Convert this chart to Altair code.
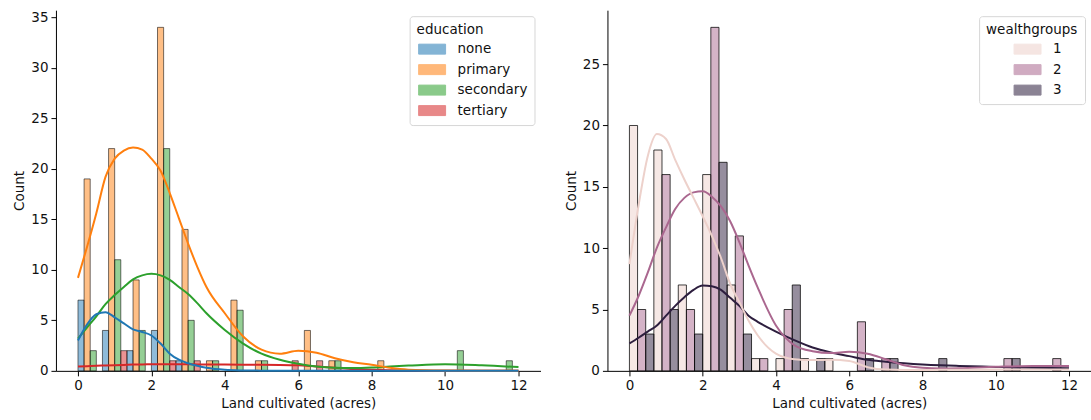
import altair as alt
import pandas as pd

# ---------------- data ----------------
BIN_WIDTH = 2 / 3          # 18 bins covering 0 .. 12 acres
X_TICKS = [0, 2, 4, 6, 8, 10, 12]

edu_levels = ["none", "primary", "secondary", "tertiary"]
edu_colors = ["#1f77b4", "#ff7f0e", "#2ca02c", "#d62728"]
none_counts      = [7, 4, 2, 4, 1, 0, 0, 0, 0, 0, 0, 0, 0, 0, 0, 0, 0, 0]
primary_counts   = [19, 22, 9, 34, 14, 1, 7, 1, 0, 4, 1, 0, 1, 0, 0, 0, 0, 0]
secondary_counts = [2, 11, 4, 22, 5, 1, 6, 1, 0, 0, 1, 0, 0, 0, 0, 2, 0, 1]
tertiary_counts  = [0, 2, 0, 1, 1, 0, 0, 0, 1, 1, 0, 0, 0, 0, 0, 0, 0, 0]

wealth_levels = ["1", "2", "3"]
wealth_colors = ["#edd1cb", "#aa678f", "#2d1e3e"]
w1_counts = [20, 18, 7, 16, 7, 1, 1, 1, 1, 0, 0, 0, 0, 0, 0, 0, 0, 0]
w2_counts = [5, 16, 5, 28, 11, 1, 5, 0, 0, 4, 1, 0, 0, 0, 0, 1, 0, 1]
w3_counts = [3, 5, 3, 17, 3, 0, 7, 1, 0, 1, 1, 0, 1, 0, 0, 1, 0, 0]

# density curves (scaled to counts), read at these x positions
kde_x = [0, 0.25, 0.5, 0.75, 1.0, 1.25, 1.5, 1.75, 2.0, 2.25, 2.5, 2.75, 3.0, 3.25,
         3.5, 4.0, 4.5, 5.0, 5.5, 6.0, 6.5, 7.0, 7.5, 8.0, 8.5, 9.0, 10.0, 11.0, 12.0]
none_kde = [3.0, 4.6, 5.6, 5.8, 5.3, 4.7, 4.1, 3.85, 3.5, 2.7, 1.7, 1.1, 0.75, 0.5,
            0.3, 0.1, 0.04, 0.02, 0.01, 0, 0, 0, 0, 0, 0, 0, 0, 0, 0]
primary_kde = [9.2, 12.3, 15.6, 19.2, 21.0, 21.8, 22.1, 21.9, 21.0, 19.8, 17.6, 15.1,
               12.6, 10.3, 8.3, 5.7, 3.4, 2.1, 1.7, 2.0, 1.8, 1.25, 0.85, 0.6, 0.3,
               0.12, 0.03, 0.01, 0.0]
secondary_kde = [3.2, 4.3, 5.4, 6.6, 7.5, 8.3, 9.05, 9.45, 9.6, 9.45, 9.0, 8.3, 7.6,
                 6.7, 5.7, 4.05, 2.7, 1.7, 1.1, 0.7, 0.42, 0.3, 0.28, 0.33, 0.43, 0.52,
                 0.66, 0.55, 0.37]
tertiary_kde = [0.42, 0.46, 0.5, 0.53, 0.56, 0.59, 0.62, 0.64, 0.65, 0.66, 0.66, 0.66,
                0.65, 0.64, 0.63, 0.62, 0.61, 0.6, 0.59, 0.55, 0.42, 0.3, 0.18, 0.11,
                0.06, 0.03, 0.01, 0.0, 0.0]

w1_kde = [8.7, 13.5, 17.5, 19.3, 18.9, 17.2, 15.6, 14.1, 12.6, 11.0, 9.2, 7.1, 5.6,
          4.1, 2.9, 1.4, 0.95, 0.88, 0.9, 0.8, 0.3, 0.1, 0.07, 0.07, 0.08, 0.09, 0.1,
          0.1, 0.1]
w2_kde = [4.5, 6.1, 8.0, 10.05, 11.7, 13.2, 14.1, 14.55, 14.63, 14.2, 13.4, 12.2, 10.5,
          8.6, 6.8, 3.7, 2.1, 1.6, 1.45, 1.55, 1.4, 0.95, 0.45, 0.25, 0.2, 0.22, 0.33,
          0.4, 0.4]
w3_kde = [2.24, 2.7, 3.2, 3.7, 4.5, 5.3, 6.0, 6.6, 6.95, 6.9, 6.6, 5.95, 5.3, 4.5, 4.0,
          3.2, 2.5, 1.9, 1.5, 1.2, 0.9, 0.75, 0.62, 0.52, 0.45, 0.4, 0.32, 0.25, 0.21]

# ---------------- tables for the library ----------------
def hist_table(levels, counts_list):
    rows = []
    n = len(levels)
    for slot, (lvl, counts) in enumerate(zip(levels, counts_list)):
        for k, c in enumerate(counts):
            if c > 0:
                rows.append({"group": lvl, "bin": k, "slot": slot, "n": n, "count": c})
    return pd.DataFrame(rows)


def kde_table(levels, kde_list):
    rows = []
    # drawn in reverse hue order (first level on top)
    for lvl, vals in reversed(list(zip(levels, kde_list))):
        for x, v in zip(kde_x, vals):
            rows.append({"group": lvl, "x": x, "density": v})
    return pd.DataFrame(rows)


FONT = "DejaVu Sans"
FS = 13.5
TXT = "#111111"
# wide swatch drawn beyond the unit box so the legend rows stay compact
SWATCH = "M-2,-0.74L2,-0.74L2,0.74L-2,0.74Z"


def panel(levels, colors, counts_list, kde_list, ymax, yticks, legend_title,
          stroke_op, symbol_offset, width):
    x_scale = alt.Scale(domain=[-0.6, 12.6], nice=False, zero=False)
    y_scale = alt.Scale(domain=[0, ymax], nice=False, zero=True)
    x_axis = alt.Axis(values=X_TICKS, grid=False, title="Land cultivated (acres)")
    y_axis = alt.Axis(values=yticks, grid=False, title="Count")

    bars = alt.Chart(hist_table(levels, counts_list)).transform_calculate(
        x0=f"datum.bin * {BIN_WIDTH} + datum.slot * {BIN_WIDTH} / datum.n",
        x1=f"datum.bin * {BIN_WIDTH} + (datum.slot + 1) * {BIN_WIDTH} / datum.n",
    ).mark_rect(
        fillOpacity=0.5, stroke="black", strokeOpacity=stroke_op, strokeWidth=1
    ).encode(
        x=alt.X("x0:Q", scale=x_scale, axis=x_axis),
        x2="x1:Q",
        y=alt.Y("count:Q", scale=y_scale, axis=y_axis),
        y2=alt.datum(0),
        fill=alt.Fill(
            "group:N",
            scale=alt.Scale(domain=levels, range=colors),
            legend=alt.Legend(
                title=legend_title, orient="top-right", offset=6,
                strokeColor="#d6d6d6", fillColor="white", cornerRadius=3,
                padding=7, symbolType=SWATCH, symbolSize=182,
                symbolStrokeColor="black", symbolStrokeWidth=1, symbolOpacity=0.55,
                symbolOffset=symbol_offset, labelOffset=18, rowPadding=5.5,
                labelFontSize=FS, titleFontSize=FS, titleFontWeight="normal",
                labelColor=TXT, titleColor=TXT, titlePadding=5,
                labelFont=FONT, titleFont=FONT,
            ),
        ),
    )

    lines = alt.Chart(kde_table(levels, kde_list)).mark_line(
        strokeWidth=2, interpolate="monotone"
    ).encode(
        x=alt.X("x:Q", scale=x_scale),
        y=alt.Y("density:Q", scale=y_scale),
        stroke=alt.Stroke("group:N", scale=alt.Scale(domain=levels, range=colors),
                          legend=None, sort=None),
    )
    return alt.layer(bars, lines).properties(width=width, height=361)


left = panel(edu_levels, edu_colors,
             [none_counts, primary_counts, secondary_counts, tertiary_counts],
             [none_kde, primary_kde, secondary_kde, tertiary_kde],
             35.7, [0, 5, 10, 15, 20, 25, 30, 35], "education", 0.55, 8, 485)

right = panel(wealth_levels, wealth_colors,
              [w1_counts, w2_counts, w3_counts],
              [w1_kde, w2_kde, w3_kde],
              29.4, [0, 5, 10, 15, 20, 25], "wealthgroups", 0.75, 34, 484)

chart = alt.hconcat(left, right, spacing=23).resolve_scale(
    fill="independent", stroke="independent"
).resolve_legend(fill="independent").properties(
    padding={"left": 12, "top": 10, "right": 0, "bottom": 2}
).configure(font=FONT).configure_view(stroke=None).configure_axis(
    domainColor="black", tickColor="black", tickSize=5, domainWidth=1,
    labelFontSize=FS, titleFontSize=FS, labelColor=TXT, titleColor=TXT,
    titleFontWeight="normal", labelPadding=3, labelFont=FONT, titleFont=FONT,
)

chart.save("out.html", embed_options={"renderer": "svg", "actions": False})
